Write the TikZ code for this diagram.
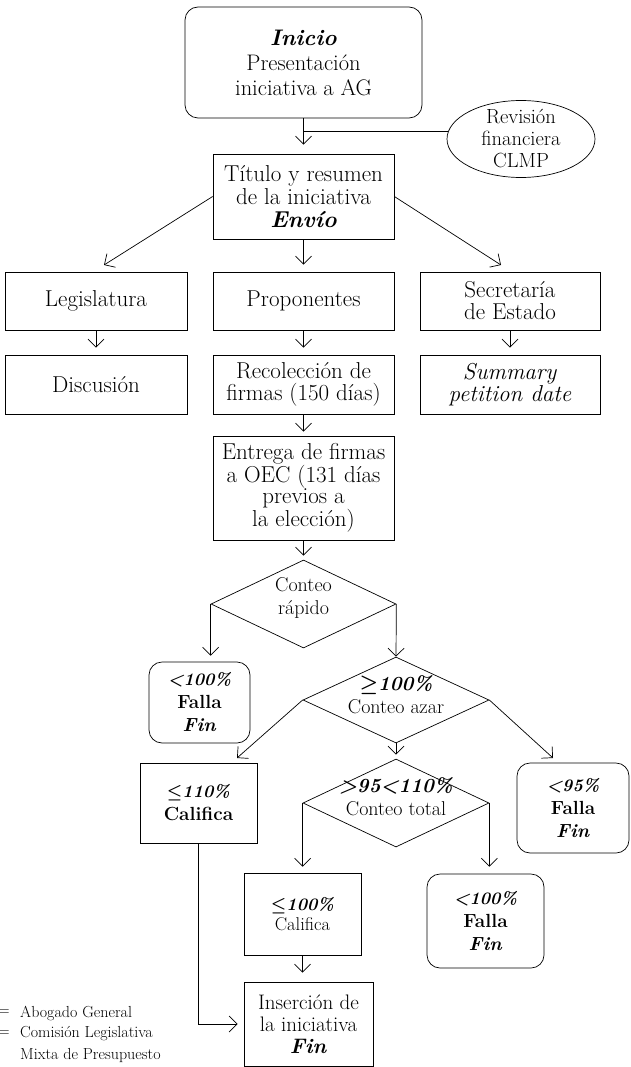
\documentclass[tikz,border=0pt]{standalone}
\usepackage{fontspec}
\usetikzlibrary{shapes.geometric,arrows.meta}
\newcommand\pctsz{\fontsize{17.5}{23}\selectfont}
\begin{document}
\begin{tikzpicture}[x=1pt,y=-1pt,
  base/.style={draw, line width=0.7pt, align=center, inner sep=0pt, font=\fontsize{23}{22}\selectfont},
  box/.style={base, rectangle},
  rbox/.style={base, rectangle, rounded corners=13pt},
  dia/.style={base, diamond},
  ell/.style={base, ellipse},
  txt/.style={align=center, inner sep=0pt, font=\fontsize{20}{23}\selectfont},
  res/.style={font=\fontsize{19}{23}\selectfont},
  legtxt/.style={anchor=west, inner sep=0pt, font=\fontsize{16}{21}\selectfont},
  arr/.style={line width=0.7pt, -{Straight Barb[length=8pt,width=16pt,line width=0.7pt]}},
  plain/.style={line width=0.7pt}]
\useasboundingbox (0,0) rectangle (630,1067);

% nodes
\node[rbox, minimum width=237pt, minimum height=111pt, font=\fontsize{22.5}{25}\selectfont] (start) at (303.5,62.5)
  {\textbf{\textit{Inicio}}\\Presentación\\iniciativa a AG};
\node[ell, minimum width=148pt, minimum height=77pt] (clmp) at (521,139) {};
\node[txt, font=\fontsize{20.5}{22}\selectfont] (clmptxt) at (521,139) {Revisión\\financiera\\CLMP};
\node[box, minimum width=181pt, minimum height=85pt, font=\fontsize{23}{23.3}\selectfont] (tit) at (303.5,196.5)
  {Título y resumen\\de la iniciativa\\\textbf{\textit{Envío}}};

\node[box, minimum width=182pt, minimum height=58pt] (leg) at (96,301) {Legislatura};
\node[box, minimum width=181pt, minimum height=58pt] (prop) at (303.5,301) {Proponentes};
\node[box, minimum width=180pt, minimum height=58pt] (sec) at (510,301) {Secretaría\\de Estado};

\node[box, minimum width=182pt, minimum height=59pt] (disc) at (96,384.5) {Discusión};
\node[box, minimum width=181pt, minimum height=59pt] (rec) at (303.5,384.5) {Recolección de\\firmas (150 días)};
\node[box, minimum width=180pt, minimum height=59pt] (summ) at (510,384.5) {\textit{Summary}\\\textit{petition date}};

\node[box, minimum width=181pt, minimum height=104pt, font=\fontsize{23}{21.3}\selectfont] (ent) at (303.5,488)
  {Entrega de firmas\\a OEC (131 días\\previos a\\la elección)};

\node[dia, minimum width=185pt, minimum height=88pt] (rap) at (303.5,604) {};
\node[txt] (raptxt) at (303.5,598) {Conteo\\rápido};

\node[dia, minimum width=186pt, minimum height=86pt] (azar) at (396,700) {};
\node[txt] (azartxt) at (396,695) {\textbf{\textit{{\boldmath$\geq$}100\%}}\\Conteo azar};

\node[dia, minimum width=186pt, minimum height=88pt] (tot) at (396,803) {};
\node[txt] (tottxt) at (396,797) {\textbf{\textit{>95<110\%}}\\Conteo total};

\node[rbox, res, minimum width=101pt, minimum height=81pt] (fal1) at (199.5,702.5)
  {{\pctsz\textbf{\textit{<100\%}}}\\\textbf{Falla}\\\textbf{\textit{Fin}}};
\node[box, res, minimum width=117pt, minimum height=80pt] (cal) at (198.5,803)
  {{\pctsz\textbf{\textit{{\boldmath$\leq$}110\%}}}\\\textbf{Califica}};
\node[rbox, res, minimum width=112pt, minimum height=90pt] (fal2) at (573,808)
  {{\pctsz\textbf{\textit{<95\%}}}\\\textbf{Falla}\\\textbf{\textit{Fin}}};
\node[box, minimum width=117pt, minimum height=82pt, font=\fontsize{18.5}{20}\selectfont] (cal2) at (302.5,914)
  {{\pctsz\textbf{\textit{{\boldmath$\leq$}100\%}}}\\Califica};
\node[rbox, res, minimum width=117pt, minimum height=94pt] (fal3) at (485.5,921)
  {{\pctsz\textbf{\textit{<100\%}}}\\\textbf{Falla}\\\textbf{\textit{Fin}}};
\node[box, minimum width=129pt, minimum height=84pt, font=\fontsize{21}{22}\selectfont] (ins) at (308.5,1024)
  {Inserción de\\la iniciativa\\\textbf{\textit{Fin}}};

% legend
\node[legtxt, anchor=center] (eq1) at (4,1013) {=};
\node[legtxt] (lg1) at (20,1013) {Abogado General};
\node[legtxt, anchor=center] (eq2) at (4,1034) {=};
\node[legtxt] (lg2) at (20,1034) {Comisión Legislativa};
\node[legtxt] (lg3) at (20,1055) {Mixta de Presupuesto};

% free ends
\coordinate (aL) at (104,265);
\coordinate (aR) at (501,265);
\coordinate (aC) at (237,758);
\coordinate (aF) at (553,758);

% connectors
\draw[arr, shorten >=9pt] (start.south) -- (tit.north);
\draw[plain] (start.south |- clmp.174) -- (clmp.174);
\draw[arr] (tit.west) -- (aL);
\draw[arr] (tit.east) -- (aR);
\draw[arr, shorten >=7pt] (tit.south) -- (prop.north);
\draw[arr, shorten >=7pt] (leg.south) -- (disc.north);
\draw[arr, shorten >=7pt] (prop.south) -- (rec.north);
\draw[arr, shorten >=7pt] (sec.south) -- (summ.north);
\draw[arr, shorten >=4pt] (rec.south) -- (ent.north);
\draw[arr, shorten >=4pt] (ent.south) -- (rap.north);
\draw[arr, shorten >=6pt] (rap.west) -- (rap.west |- fal1.north);
\draw[arr] (rap.east) -- (azar.north);
\draw[arr] (azar.west) -- (aC);
\draw[arr] (azar.east) -- (aF);
\draw[arr, shorten >=4pt] (azar.south) -- (tot.north);
\draw[arr, shorten >=6pt] (tot.west) -- (tot.west |- cal2.north);
\draw[arr, shorten >=7pt] (tot.east) -- (tot.east |- fal3.north);
\draw[arr, shorten >=9pt] (cal2.south) -- (cal2.south |- ins.north);
\draw[arr, shorten >=6pt] (cal.south) |- (ins.west);
\end{tikzpicture}
\end{document}
